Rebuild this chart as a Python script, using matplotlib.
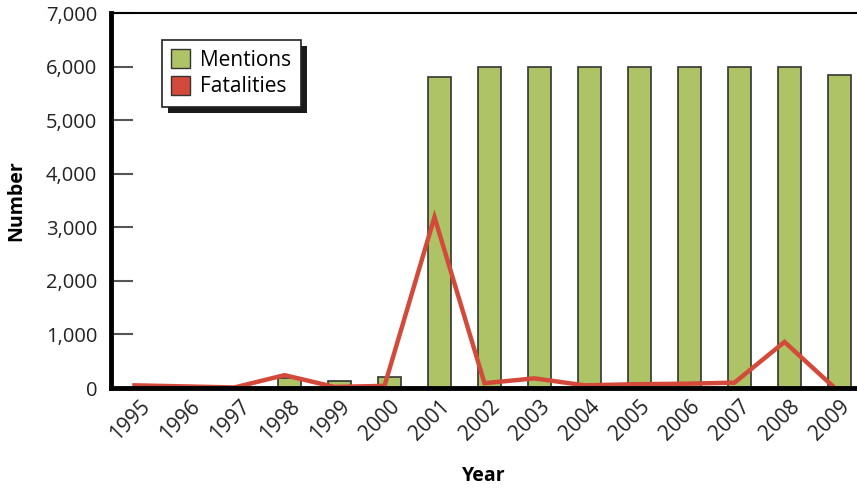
import numpy as np
import matplotlib.pyplot as plt
from matplotlib.patches import Patch, Rectangle

years = [1995, 1996, 1997, 1998, 1999, 2000, 2001, 2002, 2003, 2004, 2005, 2006, 2007, 2008, 2009]
mentions = [0, 0, 0, 190, 125, 200, 5810, 6000, 6000, 6000, 6000, 6000, 6000, 6000, 5850]
fatalities = [50, 30, 10, 240, 20, 40, 3190, 90, 180, 50, 70, 80, 100, 860, 5]
yticks = [0, 1000, 2000, 3000, 4000, 5000, 6000, 7000]

green = "#adc365"
red = "#d44a3a"

plt.rcParams['font.family'] = ['Open Sans', 'DejaVu Sans']

fig = plt.figure(figsize=(8.57, 4.9), dpi=100)
ax = fig.add_axes([111 / 857, 1 - 388 / 490, (857 - 111) / 857, 375 / 490])

x = np.arange(len(years))
ax.bar(x, mentions, width=0.46, color=green, edgecolor="#333333", linewidth=1.2, zorder=2)
ax.plot(x - 0.1, fatalities, color=red, linewidth=3.2, zorder=3, solid_joinstyle="miter")

ax.set_xlim(-0.57, 14.35)
ax.set_ylim(0, 7000)
ax.set_yticks(yticks)
ax.set_yticklabels([f"{v:,}" for v in yticks], fontsize=14.5, color="#222222")
ax.set_xticks(x)
ax.set_xticklabels([str(y) for y in years], rotation=45, ha="right",
                   rotation_mode="anchor", fontsize=15, color="#222222")
ax.tick_params(axis="y", direction="in", length=16, width=1.5, color="#555555", pad=10)
ax.tick_params(axis="x", length=0, pad=6)

ax.spines["right"].set_visible(False)
ax.spines["top"].set_linewidth(1.5)
ax.spines["left"].set_linewidth(3.5)
ax.spines["bottom"].set_linewidth(3.5)
ax.spines["bottom"].set_zorder(4)

ax.set_ylabel("Number", fontsize=14, fontweight="bold", labelpad=14)
ax.set_xlabel("Year", fontsize=14, fontweight="bold", labelpad=15)

handles = [Patch(facecolor=green, edgecolor="#333333", label="Mentions"),
           Patch(facecolor=red, edgecolor="#333333", label="Fatalities")]
leg = ax.legend(handles=handles, loc="upper left", bbox_to_anchor=(0.068, 0.928),
                fontsize=15, fancybox=False, edgecolor="#222222", framealpha=1,
                handlelength=0.9, handleheight=1.0, handletextpad=0.5,
                borderpad=0.45, labelspacing=0.25, borderaxespad=0)
leg.get_frame().set_linewidth(1.2)
leg.set_zorder(6)

# drop shadow behind the legend box
fig.canvas.draw()
bb = leg.get_window_extent()
shadow = Rectangle((bb.x0 + 6, bb.y0 - 6), bb.width, bb.height, transform=None,
                   facecolor="#1a1a1a", edgecolor="none", zorder=5)
ax.add_artist(shadow)
shadow.set_clip_on(False)

fig.savefig("out.png", dpi=100)
